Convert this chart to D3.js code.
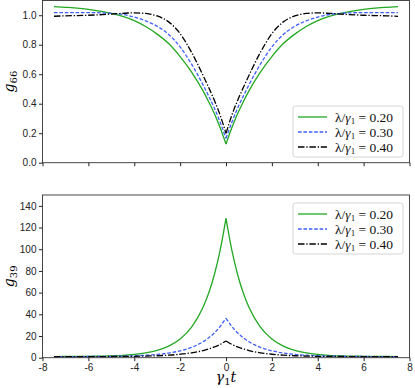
<!DOCTYPE html>
<html>
<head>
<meta charset="utf-8">
<script src="https://cdn.jsdelivr.net/npm/d3@7"></script>
<style>
  body { margin: 0; background: #fff; }
  svg { display: block; }
  .tick text { font-family: "Liberation Sans", Arial, sans-serif; font-size: 10px; fill: #222; }
  .tick line { stroke: #222; }
</style>
</head>
<body>
<div id="chart"></div>
<script>
// time axis, gamma_1 t
const tVals = [-7.5, -7, -6, -5, -4.5, -4, -3.5, -3, -2.5, -2, -1.5, -1, -0.75, -0.5, -0.25,
  0, 0.25, 0.5, 0.75, 1, 1.5, 2, 2.5, 3, 3.5, 4, 4.5, 5, 6, 7, 7.5];

const seriesLabels = ["0.20", "0.30", "0.40"];

// g66
const g66_020 = [1.059, 1.054, 1.040, 1.013, 0.992, 0.964, 0.924, 0.872, 0.808, 0.720, 0.615, 0.487, 0.412, 0.330, 0.235,
  0.126, 0.235, 0.330, 0.412, 0.487, 0.615, 0.720, 0.808, 0.872, 0.924, 0.964, 0.992, 1.013, 1.040, 1.054, 1.059];
const g66_030 = [1.018, 1.018, 1.018, 1.013, 1.005, 0.988, 0.962, 0.925, 0.870, 0.785, 0.668, 0.528, 0.450, 0.368, 0.272,
  0.165, 0.272, 0.368, 0.450, 0.528, 0.668, 0.785, 0.870, 0.925, 0.962, 0.988, 1.005, 1.013, 1.018, 1.018, 1.018];
const g66_040 = [0.993, 0.996, 1.000, 1.008, 1.013, 1.016, 1.012, 0.995, 0.955, 0.875, 0.748, 0.592, 0.508, 0.420, 0.320,
  0.199, 0.320, 0.420, 0.508, 0.592, 0.748, 0.875, 0.955, 0.995, 1.012, 1.016, 1.013, 1.008, 1.000, 0.996, 0.993];

// g39
const g39_020 = [1.05, 1.1, 1.3, 1.7, 2.2, 3.1, 4.5, 6.8, 10.7, 17.3, 28.2, 46.5, 59.9, 77.2, 99.6,
  128.5, 99.6, 77.2, 59.9, 46.5, 28.2, 17.3, 10.7, 6.8, 4.5, 3.1, 2.2, 1.7, 1.3, 1.1, 1.05];
const g39_030 = [1.03, 1.05, 1.1, 1.3, 1.5, 1.8, 2.3, 3.0, 4.3, 6.3, 9.5, 14.7, 18.4, 23.0, 29.0,
  36.3, 29.0, 23.0, 18.4, 14.7, 9.5, 6.3, 4.3, 3.0, 2.3, 1.8, 1.5, 1.3, 1.1, 1.05, 1.03];
const g39_040 = [1.0, 1.0, 1.05, 1.1, 1.2, 1.3, 1.5, 1.8, 2.3, 3.2, 4.5, 6.6, 8.1, 9.9, 12.3,
  15.4, 12.3, 9.9, 8.1, 6.6, 4.5, 3.2, 2.3, 1.8, 1.5, 1.3, 1.2, 1.1, 1.05, 1.0, 1.0];

const xTicks = [-8, -6, -4, -2, 0, 2, 4, 6, 8];
const yTicksTop = [0, 0.2, 0.4, 0.6, 0.8, 1.0];
const yTicksBot = [0, 20, 40, 60, 80, 100, 120, 140];

const width = 415, height = 388;
const left = 42.5, right = 409.5;

const styles = [
  { color: "#22a822", dash: null },
  { color: "#3f5fff", dash: "3.6,1.8" },
  { color: "#000", dash: "6.5,1.8,1.3,1.8" },
];

const svg = d3.select("#chart").append("svg")
  .attr("width", width).attr("height", height);

const x = d3.scaleLinear([-8, 8], [left, right]);

function panel({ yDomain, yRange, yTicks, yFmt, series, showXLabels, legendBox, sub }) {
  const y = d3.scaleLinear(yDomain, yRange);
  const g = svg.append("g");

  // curves: draw each half separately so the cusp at t=0 stays sharp
  const line = d3.line().curve(d3.curveMonotoneX).x(d => x(d[0])).y(d => y(d[1]));
  series.forEach((vals, k) => {
    const pts = tVals.map((t, i) => [t, vals[i]]);
    const halves = [pts.filter(p => p[0] <= 0), pts.filter(p => p[0] >= 0)];
    halves.forEach(h => {
      g.append("path")
        .attr("d", line(h))
        .attr("fill", "none")
        .attr("stroke", styles[k].color)
        .attr("stroke-width", 1.3)
        .attr("stroke-dasharray", styles[k].dash);
    });
  });

  // frame
  g.append("rect")
    .attr("x", left).attr("y", yRange[1])
    .attr("width", right - left).attr("height", yRange[0] - yRange[1])
    .attr("fill", "none").attr("stroke", "#333").attr("stroke-width", 0.9);

  // axes
  g.append("g")
    .attr("transform", `translate(0,${yRange[0]})`)
    .call(d3.axisBottom(x).tickValues(xTicks).tickSize(3.5).tickPadding(3)
      .tickFormat(showXLabels ? d => String(d) : ""))
    .call(s => s.select(".domain").remove());

  g.append("g")
    .attr("transform", `translate(${left},0)`)
    .call(d3.axisLeft(y).tickValues(yTicks).tickSize(3.5).tickPadding(2.5).tickFormat(yFmt))
    .call(s => s.select(".domain").remove());

  // y label, rotated
  const cy = (yRange[0] + yRange[1]) / 2;
  const lab = g.append("text")
    .attr("transform", `translate(14,${cy}) rotate(-90)`)
    .attr("text-anchor", "middle")
    .attr("font-family", "'DejaVu Serif', serif")
    .attr("font-size", 14);
  lab.append("tspan").attr("font-style", "italic").text("g");
  lab.append("tspan").attr("font-size", 10).attr("dy", 3).text(sub);

  // legend
  const lg = g.append("g");
  lg.append("rect")
    .attr("x", legendBox.x).attr("y", legendBox.y)
    .attr("width", legendBox.w).attr("height", legendBox.h)
    .attr("rx", 2.5)
    .attr("fill", "#fff").attr("stroke", "#d0d0d0").attr("stroke-width", 0.9);
  seriesLabels.forEach((lbl, k) => {
    const ry = legendBox.y + 11 + k * 15;
    lg.append("line")
      .attr("x1", legendBox.x + 5).attr("x2", legendBox.x + 34)
      .attr("y1", ry).attr("y2", ry)
      .attr("stroke", styles[k].color).attr("stroke-width", 1.3)
      .attr("stroke-dasharray", styles[k].dash);
    const t = lg.append("text")
      .attr("x", legendBox.x + 42).attr("y", ry + 4.5)
      .attr("font-family", "'Liberation Serif', serif")
      .attr("font-size", 13.5).attr("fill", "#111");
    t.append("tspan").text("λ/");
    t.append("tspan").attr("font-style", "italic").text("γ");
    t.append("tspan").attr("font-size", 9).attr("dy", 2.5).text("1");
    t.append("tspan").attr("dy", -2.5).text(" = " + lbl);
  });
}

panel({
  yDomain: [0, 1.1], yRange: [162.7, 0.5], yTicks: yTicksTop,
  yFmt: d3.format(".1f"), series: [g66_020, g66_030, g66_040],
  showXLabels: false, legendBox: { x: 293, y: 106, w: 110, h: 51 }, sub: "66"
});

panel({
  yDomain: [0, 150], yRange: [357.7, 195], yTicks: yTicksBot,
  yFmt: d3.format("d"), series: [g39_020, g39_030, g39_040],
  showXLabels: true, legendBox: { x: 293, y: 203, w: 110, h: 51 }, sub: "39"
});

// x label
const xl = svg.append("text")
  .attr("x", 226).attr("y", 382)
  .attr("text-anchor", "middle")
  .attr("font-family", "'DejaVu Serif', serif")
  .attr("font-size", 14);
xl.append("tspan").attr("font-style", "italic").text("γ");
xl.append("tspan").attr("font-size", 10).attr("dy", 3).text("1");
xl.append("tspan").attr("font-style", "italic").attr("dy", -3).text("t");
</script>
</body>
</html>
